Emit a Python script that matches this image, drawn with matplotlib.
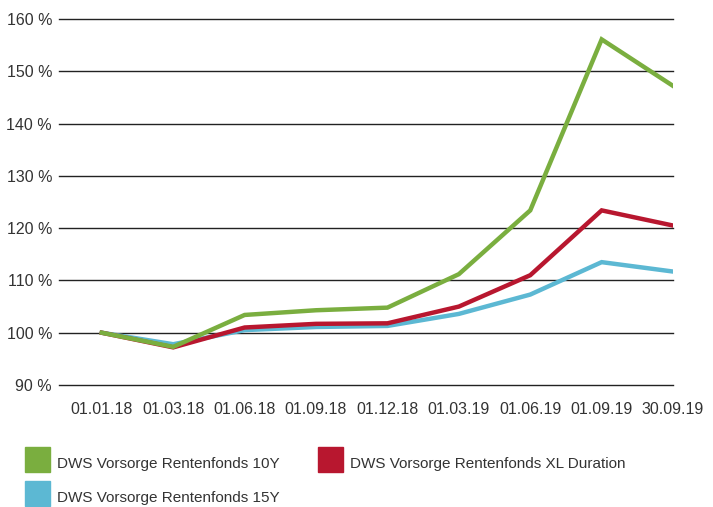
import numpy as np
import matplotlib.pyplot as plt
from matplotlib.patches import Rectangle

# Daten (Wertentwicklung in %)
labels = ['01.01.18', '01.03.18', '01.06.18', '01.09.18', '01.12.18',
          '01.03.19', '01.06.19', '01.09.19', '30.09.19']
fonds_10y = [100.0, 97.3, 103.4, 104.3, 104.8, 111.2, 123.4, 156.1, 147.2]
fonds_xl = [100.0, 97.2, 101.0, 101.7, 101.8, 105.0, 111.0, 123.4, 120.5]
fonds_15y = [100.0, 97.8, 100.5, 101.1, 101.3, 103.6, 107.3, 113.5, 111.7]
names = ['DWS Vorsorge Rentenfonds 10Y', 'DWS Vorsorge Rentenfonds XL Duration',
         'DWS Vorsorge Rentenfonds 15Y']
colors = ['#7aae3f', '#b8172f', '#5cb8d3']

plt.rcParams['font.family'] = ['Liberation Sans', 'DejaVu Sans']

fig = plt.figure(figsize=(7.13, 5.07), dpi=100)
ax = fig.add_axes([0.0827, 0.2406, 0.8613, 0.7219])

x = np.arange(len(labels))
ax.plot(x, fonds_15y, color=colors[2], linewidth=3.2, solid_joinstyle='miter')
ax.plot(x, fonds_xl, color=colors[1], linewidth=3.2, solid_joinstyle='miter')
ax.plot(x, fonds_10y, color=colors[0], linewidth=3.2, solid_joinstyle='miter')

ax.set_xlim(-0.6, 8.0)
ax.set_ylim(90, 160)
ax.set_yticks(np.arange(90, 161, 10))
ax.set_yticklabels([f'{v} %' for v in range(90, 161, 10)])
ax.set_xticks(x)
ax.set_xticklabels(labels)
ax.grid(axis='y', color='#222222', linewidth=1.0)
for gl in ax.get_ygridlines():
    gl.set_clip_on(False)
ax.set_axisbelow(True)
for s in ax.spines.values():
    s.set_visible(False)
ax.tick_params(length=0, labelsize=11.5, colors='#333333')
ax.tick_params(axis='x', pad=12)
ax.tick_params(axis='y', pad=5)

# Legende
W, H = 713, 507
legend_pos = [(25, 447, 0), (318, 447, 1), (25, 481, 2)]
for px, py, i in legend_pos:
    fig.patches.append(Rectangle((px / W, 1 - (py + 25) / H), 25 / W, 25 / H,
                                 transform=fig.transFigure, color=colors[i]))
    fig.text((px + 32) / W, 1 - (py + 17) / H, names[i], fontsize=11,
             color='#333333', va='center', ha='left')

fig.savefig('out.png', dpi=100)
